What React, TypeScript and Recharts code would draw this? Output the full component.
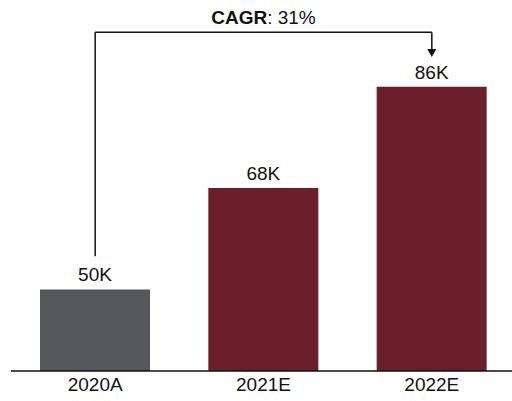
import { BarChart, Bar, XAxis, YAxis, Cell, LabelList, ReferenceLine } from 'recharts';

const years = ['2020A', '2021E', '2022E'];
const revenue = [50, 68, 86];
const barColors = ['#55575b', '#6b1f2b', '#6b1f2b'];

// CAGR bracket, in value units (K)
const cagrText = '31%';
const bracketStart = 55.9;
const bracketTop = 95.7;
const bracketEnd = 91.3;

const data = years.map((year, i) => ({ year, value: revenue[i], color: barColors[i] }));

const FONT = '"Liberation Sans", Arial, sans-serif';

// horizontal part of the bracket, with the CAGR title above it
const BracketTop = (props: any) => {
  const { x1, y1, x2, y2 } = props;
  return (
    <g>
      <line x1={x1} y1={y1} x2={x2} y2={y2} stroke="#111" strokeWidth={1.5} />
      <text x={(x1 + x2) / 2} y={y1 - 8} textAnchor="middle" fontSize={19} fontFamily={FONT} fill="#111">
        <tspan fontWeight="bold">CAGR</tspan>
        <tspan>: {cagrText}</tspan>
      </text>
    </g>
  );
};

// right leg, ending in an arrowhead
const BracketArrow = (props: any) => {
  const { x1, y1, x2, y2 } = props;
  const top = Math.min(y1, y2);
  const tip = Math.max(y1, y2);
  return (
    <g>
      <line x1={x1} y1={top} x2={x2} y2={tip - 6} stroke="#111" strokeWidth={1.5} />
      <polygon points={`${x2 - 4.5},${tip - 8} ${x2 + 4.5},${tip - 8} ${x2},${tip}`} fill="#111" />
    </g>
  );
};

export default function App() {
  return (
    <div style={{ position: 'absolute', left: 0, top: 0, width: 512, height: 401, background: '#fff' }}>
      <BarChart
        width={512}
        height={401}
        data={data}
        margin={{ top: 8, right: -4, left: 11, bottom: 0 }}
      >
        <XAxis
          dataKey="year"
          height={30}
          tickLine={false}
          tickSize={0}
          tickMargin={7}
          axisLine={{ stroke: '#111', strokeWidth: 1.5 }}
          tick={{ fontSize: 19, fontFamily: FONT, fill: '#111' }}
        />
        <YAxis hide domain={[35.5, 100]} />
        <Bar dataKey="value" barSize={110} isAnimationActive={false}>
          {data.map((d) => (
            <Cell key={d.year} fill={d.color} />
          ))}
          <LabelList
            dataKey="value"
            position="top"
            offset={8}
            formatter={(v: any) => `${v}K`}
            style={{ fontSize: 19, fontFamily: FONT, fill: '#111' }}
          />
        </Bar>
        <ReferenceLine
          segment={[{ x: years[0], y: bracketStart }, { x: years[0], y: bracketTop }]}
          stroke="#111"
          strokeWidth={1.5}
        />
        <ReferenceLine
          segment={[{ x: years[0], y: bracketTop }, { x: years[2], y: bracketTop }]}
          shape={BracketTop}
        />
        <ReferenceLine
          segment={[{ x: years[2], y: bracketTop }, { x: years[2], y: bracketEnd }]}
          shape={BracketArrow}
        />
      </BarChart>
    </div>
  );
}
